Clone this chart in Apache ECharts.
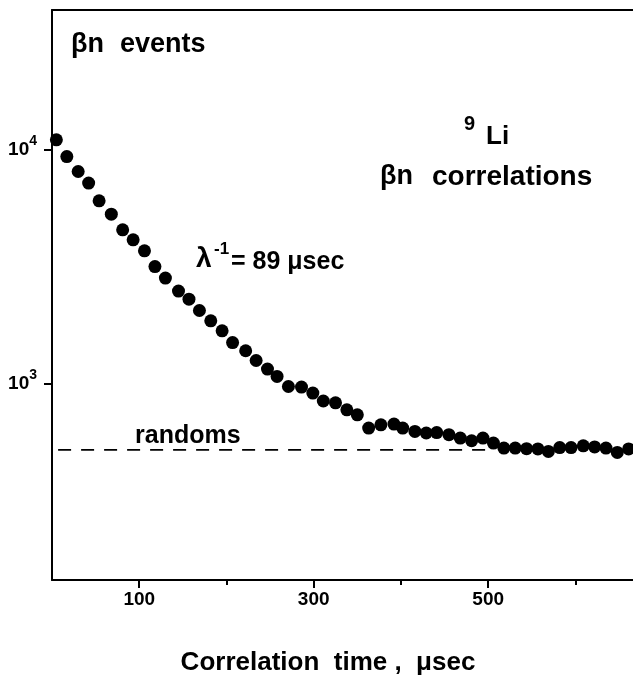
<!DOCTYPE html>
<html><head><meta charset="utf-8">
<script src="https://cdn.jsdelivr.net/npm/echarts@6/dist/echarts.min.js"></script>
<style>html,body{margin:0;padding:0;background:#fff}#c{width:633px;height:680px}</style>
</head><body><div id="c"></div>
<script>
// Correlation time (µs) of each channel
const times = [5,17,30,42,54,68,81,93,106,118,130,145,157,169,182,195,207,222,234,247,258,271,286,299,311,325,338,350,363,377,392,402,416,429,441,455,468,481,494,506,518,531,544,557,569,582,595,609,622,635,648,661];
// βn counts
const counts = [11040,9360,8080,7210,6055,5310,4550,4125,3700,3170,2830,2490,2300,2057,1858,1685,1501,1384,1258,1156,1075,974,968,913,844,829,774,737,647,668,673,647,626,616,619,606,586,571,586,558,531,531,528,527,514,534,534,543,537,531,509,527];
// randoms level (dashed line)
const randomsX = [7, 497];
const randomsLevel = 522;
// ticks
const xMajorTicks = [100, 300, 500];
const xMinorTicks = [200, 400, 600];
const yTicks = [1000, 10000];

const FONT = 'Liberation Sans';
const chart = echarts.init(document.getElementById('c'), null, {renderer: 'canvas'});
const black = '#000';
const X_MAX = 666;
function txt(text, x, y, size, extra) {
  return Object.assign({type: 'text', x: x, y: y, silent: true, style: {
    text: text, fill: black, fontFamily: FONT, fontWeight: 'bold', fontSize: size,
    align: 'left', verticalAlign: 'middle'
  }}, extra || {});
}
const option = {
  animation: false,
  backgroundColor: '#fff',
  grid: {left: 52, right: 0, top: 10, bottom: 100},
  xAxis: [
    {
      type: 'value', min: 0, max: X_MAX, position: 'bottom',
      axisLine: {show: true, lineStyle: {color: black, width: 2}},
      axisTick: {show: true, customValues: xMajorTicks, length: 8, lineStyle: {color: black, width: 2}},
      axisLabel: {customValues: xMajorTicks, margin: 10, color: black, fontFamily: FONT, fontWeight: 'bold', fontSize: 19},
      splitLine: {show: false}
    },
    {
      type: 'value', min: 0, max: X_MAX, position: 'top',
      axisLine: {show: true, lineStyle: {color: black, width: 2}},
      axisTick: {show: false},
      axisLabel: {show: false},
      splitLine: {show: false}
    },
    {
      type: 'value', min: 0, max: X_MAX, position: 'bottom',
      axisLine: {show: false},
      axisTick: {show: true, customValues: xMinorTicks, length: 5, lineStyle: {color: black, width: 2}},
      axisLabel: {show: false},
      splitLine: {show: false}
    }
  ],
  yAxis: {
    type: 'log', logBase: 10, min: 145, max: 39600,
    axisLine: {show: true, lineStyle: {color: black, width: 2}},
    axisTick: {show: true, customValues: yTicks, length: 8, lineStyle: {color: black, width: 2}},
    axisLabel: {
      customValues: yTicks, margin: 15, color: black,
      formatter: function (v) { return '{b|10}{s|' + Math.round(Math.log10(v)) + '}'; },
      rich: {
        b: {fontFamily: FONT, fontWeight: 'bold', fontSize: 19, lineHeight: 32, color: black},
        s: {fontFamily: FONT, fontWeight: 'bold', fontSize: 14, lineHeight: 12, verticalAlign: 'top', color: black}
      }
    },
    splitLine: {show: false}
  },
  series: [
    {
      type: 'line', data: randomsX.map(function (x) { return [x, randomsLevel]; }),
      symbol: 'none', silent: true,
      lineStyle: {color: black, width: 1.6, type: [13, 10]}
    },
    {
      type: 'scatter', data: times.map(function (t, i) { return [t, counts[i]]; }),
      symbol: 'circle', symbolSize: 13, itemStyle: {color: black, opacity: 1}
    }
  ],
  graphic: [
    txt('βn', 71, 45, 27),
    txt('events', 120, 45, 27),
    txt('9', 464, 124, 20),
    txt('Li', 486, 137, 26),
    txt('βn', 380, 177, 27),
    txt('correlations', 432, 177, 28),
    txt('λ', 196, 259, 28),
    txt('-1', 214, 249, 17),
    txt('= 89 μsec', 231, 262, 25),
    txt('randoms', 135, 436, 25),
    txt('Correlation  time ,  μsec', 328, 663, 26, {style: {
      text: 'Correlation  time ,  μsec', fill: black, fontFamily: FONT, fontWeight: 'bold', fontSize: 26,
      align: 'center', verticalAlign: 'middle'}})
  ]
};
chart.setOption(option);
</script></body></html>
